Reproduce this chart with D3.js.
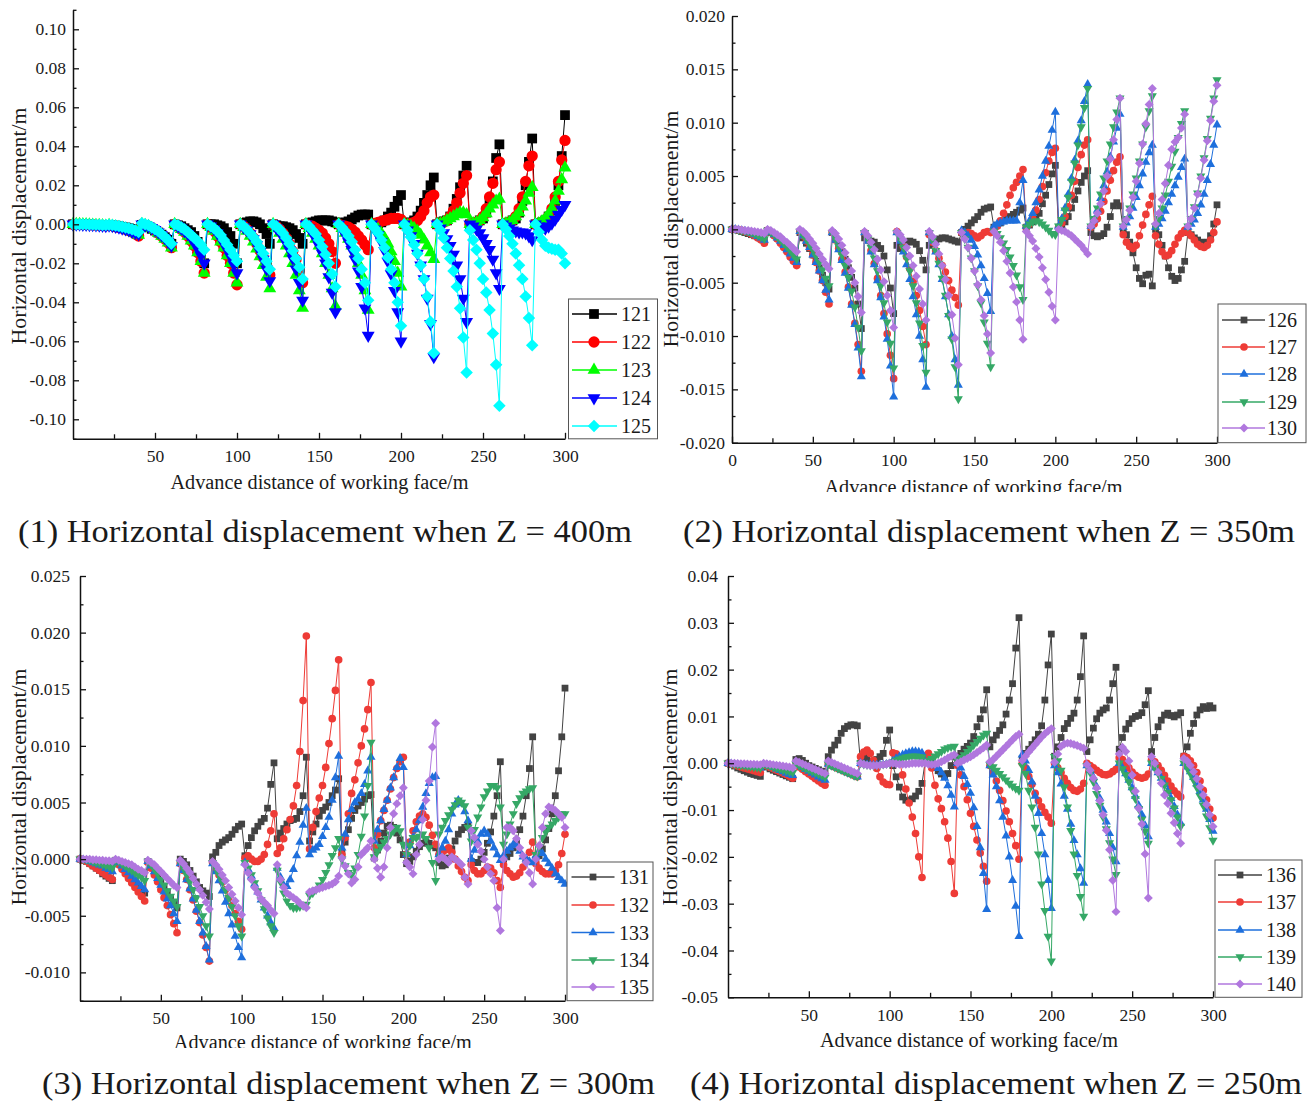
<!DOCTYPE html>
<html><head><meta charset="utf-8">
<script src="https://cdn.jsdelivr.net/npm/d3@7"></script>
<style>
body{margin:0;background:#fff}
svg{display:block}
text{font-family:"Liberation Serif","Times New Roman",serif;fill:#1a1a1a}
</style>
</head><body>
<svg id="c" width="1314" height="1102"></svg>
<script>
// Advance distance of working face (m): sampled every 2 m, 0..300
const advance = d3.range(0, 301, 2);

// Horizontal displacement in mm; each series = 15 advance steps of 20 m, 10 samples each (x = 20k+2 .. 20k+20); value at x=0 is 0
// ---------- Z = 400 m ----------
const names400 = ["121","122","123","124","125"];
const s121 = [[0,0,-0.1,-0.1,-0.2,-0.2,-0.3,-0.3,-0.4,-0.5],[-0.3,-0.5,-0.7,-1,-1.3,-1.6,-2,-2.4,-2.8,-3.3],[-0.3,-0.8,-1.5,-2.3,-3.2,-4.2,-5.3,-6.6,-8,-10],[0,-0.5,-1,-2,-3,-4,-6,-9,-13,-20],[0,0,0,-0.5,-1,-2,-4,-6,-10,-20],[0,0.5,1,1.5,1.5,1,0,-2,-5,-10],[0,-0.5,-1,-1,-1.5,-2,-3,-5,-7,-10],[0,0.5,1,1.5,2,2,2,2,1.5,1],[0,0.5,1,1.5,2.5,3.5,4.5,5,5,5],[0,0,0.5,1,2,4,6,9,12,15],[0,0.5,1,2,4,7,11,15,20,24],[0,1,1.5,2,4,8,13,19,25,30],[0,0.5,1,2,3,6,12,22,34,41],[0,0.5,1,2,3,6,12,20,32,44],[0,0.5,1,2,4,7,12,20,35,56]];
const s122 = [[0,0,-0.1,-0.1,-0.2,-0.3,-0.4,-0.5,-0.6,-0.8],[-0.5,-0.8,-1.2,-1.6,-2,-2.6,-3.2,-4,-5,-6],[0,-0.5,-1,-2,-3,-4.5,-6,-7.5,-9.5,-12],[0,-1,-2.5,-4,-6,-8.5,-11,-14.5,-19,-25],[0,-1.5,-3.5,-6,-9,-12,-16,-20,-25,-31],[0,-1,-2.5,-4.5,-7,-10,-13.5,-17,-21,-26],[0,-1,-2.5,-4.5,-7,-10,-14,-18,-24,-30],[0,-0.5,-1,-2,-3,-4.5,-7,-10,-14,-20],[0,-0.5,-1,-1.5,-2.5,-4,-6,-8,-10.5,-13],[0,0.5,1,1.5,2,2.5,3,3,3,2.5],[0,0,0.5,1,2,4,7,11,14,15],[0,0.5,1,2,4,7,11,16,21,25],[0,0.5,1,2,4,8,14,21,28,32],[0,0.5,1,2,4,8,14,22,30,35],[0,0.5,1,2,4,8,14,22,33,43]];
const s123 = [[0,0,-0.1,-0.1,-0.2,-0.3,-0.4,-0.5,-0.6,-0.8],[-0.5,-0.8,-1.2,-1.6,-2,-2.5,-3,-3.7,-4.5,-5.5],[0,-0.5,-1,-2,-3,-4.5,-6,-7.5,-9.5,-12],[0,-1,-2.5,-4,-6,-8.5,-11,-14.5,-19,-25],[0,-1.5,-3.5,-6,-9,-12,-16,-20,-25,-30],[0,-1.5,-3.5,-6,-9,-12.5,-16.5,-21,-27,-33],[0,-2,-4.5,-7.5,-11,-15,-20,-26,-34,-43],[0,-2,-4.5,-7.5,-11,-15,-20,-26,-33,-42],[0,-2,-4.5,-7.5,-11,-15,-20,-26,-34,-44],[0,-1,-2.5,-4.5,-7,-10,-14,-19,-25,-32],[0,-0.5,-1,-2,-3.5,-5.5,-8,-11,-14.5,-18],[0,0.5,1,2,3,4,5,6,6,5],[0,0.5,1,2,3.5,5.5,8,10,12,13],[0,0.5,1,2,4,6,9,12,16,19],[0,0.5,1.5,3,5,8,12,17,23,29]];
const s124 = [[0,0,-0.1,-0.1,-0.2,-0.3,-0.4,-0.5,-0.6,-0.8],[-0.5,-0.8,-1.2,-1.6,-2,-2.5,-3,-3.7,-4.3,-5],[0,-0.5,-1,-1.8,-2.8,-4,-5.5,-7,-9,-11],[0,-1,-2,-3.5,-5,-7,-9.5,-12.5,-16,-20],[0,-1,-2.5,-4.5,-7,-10,-13,-16.5,-20.5,-25],[0,-1.5,-3,-5,-7.5,-10.5,-14,-18,-23,-29],[0,-2,-4,-6.5,-9.5,-13,-17.5,-23,-30,-39],[0,-2,-4.5,-7.5,-11,-15,-20,-27,-35,-45],[0,-2.5,-5.5,-9,-13,-18,-24,-32,-43,-57],[0,-2.5,-5.5,-9,-13.5,-19,-25.5,-34,-45,-60],[0,-3,-6,-10,-15,-21,-28,-38,-51,-68],[0,-2,-4.5,-7.5,-11,-15.5,-21,-28,-38,-50],[0,-1,-2.5,-4.5,-7,-10,-13,-18,-25,-33],[0,-1,-2,-3,-3.5,-4,-4,-4.5,-6,-8],[0,-1,-2,-2,-1,0.5,2.5,5,7.5,10]];
const s125 = [[0,0,0,0,-0.1,-0.1,-0.2,-0.2,-0.3,-0.4],[-0.2,-0.4,-0.6,-0.9,-1.2,-1.6,-2,-2.5,-3.1,-4],[0.5,0,-0.5,-1.5,-2.5,-3.5,-5,-6.5,-8,-10],[0,-0.5,-1.5,-2.5,-4,-5.5,-7,-8.5,-10.5,-13],[0,-1,-2,-3.5,-5.5,-8,-10.5,-13,-16,-19],[0,-1,-2.5,-4.5,-6.5,-9,-12,-15,-19,-23],[0,-1,-2.5,-4.5,-7,-10,-13.5,-17.5,-22,-28],[0,-1,-3,-5,-8,-11.5,-15.5,-20,-25.5,-32],[0,-1.5,-3.5,-6,-9,-13,-17.5,-23,-30,-39],[0,-2,-4.5,-8,-12,-17,-23,-30,-40,-52],[0,-3,-6.5,-10.5,-15,-21,-28,-37,-50,-66],[0,-3,-7,-12,-17.5,-24,-32,-43,-58,-76],[-3,-8,-13,-20,-28,-35,-44,-56,-72,-93],[0,-2.5,-6,-10,-15,-21,-28,-37,-48,-62],[0,-4,-8,-11,-12,-12.5,-13,-13,-15,-20]];

// ---------- Z = 350 m ----------
const names350 = ["126","127","128","129","130"];
const s126 = [[0,-0.1,-0.2,-0.3,-0.4,-0.5,-0.6,-0.7,-0.9,-1.0],[-0.1,-0.3,-0.5,-0.8,-1.1,-1.5,-1.9,-2.3,-2.7,-3.1],[-0.3,-0.8,-1.3,-1.8,-2.4,-3,-3.6,-4.3,-5,-5.6],[-0.3,-0.9,-1.5,-2.1,-2.8,-3.6,-4.5,-5.5,-7,-9.3],[-0.8,-1.0,-1.1,-1.2,-1.5,-1.8,-2.5,-3.8,-5.5,-7.9],[-1.5,-1.8,-1.5,-1.2,-1.1,-1.2,-1.4,-2,-2.9,-3.8],[-1.5,-1.3,-1.0,-0.9,-0.8,-0.8,-0.9,-1.0,-1.1,-1.2],[-0.3,0,0.3,0.6,0.9,1.2,1.6,1.9,2.0,2.1],[0.2,0.4,0.6,0.8,1.0,1.2,1.4,1.6,1.8,2.0],[0.2,0.4,0.7,1.0,1.5,2.4,3.2,4.2,5.2,6.0],[0.2,0.4,0.7,1.2,2,2.8,3.6,4.4,5.0,5.5],[-0.3,-0.6,-0.7,-0.6,-0.4,0.2,1.2,2.2,2.5,2.2],[0,-0.5,-1.2,-2.2,-3.6,-4.6,-5.1,-4.3,-4.2,-5.3],[0,-0.5,-1.5,-2.5,-3.6,-4.4,-4.8,-4.6,-3.8,-3.0],[-0.3,-0.5,-0.8,-1.0,-1.2,-1.3,-1.2,-0.6,0.5,2.3]];
const s127 = [[0,-0.05,-0.1,-0.2,-0.3,-0.45,-0.6,-0.8,-1.0,-1.3],[-0.1,-0.3,-0.6,-0.9,-1.3,-1.7,-2.1,-2.6,-3.0,-3.4],[-0.2,-0.6,-1.1,-1.7,-2.4,-3.1,-3.9,-4.8,-5.9,-7.0],[-0.3,-1,-1.8,-2.8,-4,-5.4,-7,-8.8,-10.8,-13.3],[-0.3,-1,-2,-3.2,-4.6,-6.2,-7.9,-9.8,-11.8,-14.0],[-0.2,-0.8,-1.6,-2.6,-3.7,-4.9,-6.2,-7.6,-9.1,-10.8],[-0.5,-1.2,-2.0,-2.7,-3.4,-4.0,-4.8,-5.7,-6.4,-7.1],[-0.3,-0.4,-0.3,-0.4,-0.6,-0.8,-0.6,-0.3,-0.2,-0.3],[0,0.3,0.8,1.5,2.3,3.2,3.9,4.4,5.0,5.6],[0.2,0.5,1.0,1.8,2.8,4.0,5.3,6.4,7.2,7.6],[0.2,0.6,1.2,2.1,3.2,4.5,5.8,7.0,7.9,8.4],[0.2,0.5,1.0,1.7,2.6,3.6,4.6,5.5,6.3,6.8],[-0.5,-1.2,-1.6,-1.8,-1.5,-0.6,0.4,1.4,2.3,3.1],[-0.6,-1.4,-2.1,-2.5,-2.4,-2.0,-1.4,-0.8,-0.4,-0.1],[-0.3,-0.6,-1.0,-1.4,-1.6,-1.7,-1.5,-1.0,-0.3,0.7]];
const s128 = [[0,-0.05,-0.1,-0.15,-0.25,-0.35,-0.5,-0.65,-0.8,-1.0],[-0.1,-0.3,-0.5,-0.8,-1.1,-1.5,-1.9,-2.3,-2.7,-3.1],[-0.2,-0.6,-1.1,-1.7,-2.4,-3.1,-3.9,-4.8,-5.7,-6.6],[-0.3,-1.0,-1.9,-2.9,-4.1,-5.5,-7.1,-8.9,-11.1,-13.8],[-0.3,-1.1,-2.1,-3.3,-4.8,-6.4,-8.2,-10.3,-12.8,-15.7],[-0.3,-1.1,-2.1,-3.3,-4.7,-6.3,-8.0,-10.0,-12.2,-14.8],[-0.3,-1.1,-2.1,-3.3,-4.7,-6.3,-8.0,-10.0,-12.2,-14.6],[-0.1,-0.3,-0.6,-1.0,-1.6,-2.4,-3.4,-4.6,-6.0,-7.7],[0.3,0.5,0.6,0.7,0.8,0.8,0.8,0.8,2.5,4.6],[0.3,0.8,1.5,2.5,3.7,5.0,6.4,7.8,9.3,11.0],[0.3,1.0,2.0,3.3,4.8,6.5,8.3,10.2,12.0,13.6],[0.3,0.9,1.8,2.9,4.1,5.4,6.8,8.2,9.5,10.8],[0.2,0.6,1.2,2.0,3.0,4.1,5.2,6.3,7.2,7.9],[0.2,0.5,1.0,1.7,2.5,3.3,4.1,4.9,5.8,6.6],[0.2,0.5,0.9,1.5,2.3,3.3,4.6,6.1,7.9,9.8]];
const s129 = [[0,-0.05,-0.1,-0.15,-0.2,-0.3,-0.4,-0.55,-0.7,-0.9],[-0.1,-0.25,-0.45,-0.7,-1,-1.3,-1.65,-2,-2.4,-2.8],[-0.2,-0.5,-0.9,-1.4,-1.9,-2.5,-3.1,-3.8,-4.6,-5.3],[-0.3,-0.9,-1.6,-2.4,-3.4,-4.5,-5.8,-7.3,-9.2,-11.4],[-0.3,-0.9,-1.7,-2.7,-3.9,-5.3,-6.9,-8.7,-10.7,-13.0],[-0.3,-0.9,-1.7,-2.7,-3.9,-5.3,-6.9,-8.8,-10.9,-13.4],[-0.3,-1.0,-2.0,-3.2,-4.6,-6.2,-8.1,-10.3,-12.9,-15.9],[-0.3,-0.9,-1.7,-2.7,-3.9,-5.3,-6.9,-8.7,-10.7,-12.9],[-0.2,-0.4,-0.8,-1.3,-1.9,-2.6,-3.4,-4.3,-5.4,-6.6],[0.2,0.5,0.7,0.8,0.7,0.5,0.2,-0.1,-0.4,-0.5],[0.3,0.9,1.8,3.0,4.5,6.2,7.9,9.6,11.4,13.2],[0.3,1.0,2.0,3.3,4.8,6.4,8.0,9.6,11.0,12.3],[0.3,1.0,2.0,3.3,4.8,6.4,8.0,9.6,11.1,12.5],[0.3,1.0,2.0,3.2,4.5,5.9,7.3,8.6,9.9,11.1],[0.3,1.0,2.1,3.4,5.0,6.7,8.5,10.4,12.3,14.0]];
const s130 = [[0,0,-0.05,-0.1,-0.1,-0.15,-0.2,-0.25,-0.3,-0.4],[0,-0.1,-0.3,-0.5,-0.7,-1.0,-1.2,-1.5,-1.8,-2.1],[0,-0.2,-0.5,-0.9,-1.3,-1.8,-2.3,-2.8,-3.3,-3.7],[-0.1,-0.4,-0.9,-1.5,-2.2,-3.0,-3.9,-5.0,-6.3,-7.8],[-0.2,-0.6,-1.2,-1.9,-2.8,-3.8,-4.9,-6.2,-7.6,-9.2],[-0.2,-0.5,-1.0,-1.7,-2.5,-3.4,-4.4,-5.6,-7.0,-8.5],[-0.2,-0.7,-1.4,-2.3,-3.4,-4.7,-6.2,-8.0,-10.2,-12.7],[-0.3,-0.9,-1.7,-2.7,-3.9,-5.2,-6.6,-8.1,-9.8,-11.6],[-0.2,-0.6,-1.2,-2.0,-3.0,-4.1,-5.4,-6.8,-8.5,-10.3],[-0.2,-0.6,-1.1,-1.8,-2.6,-3.6,-4.7,-5.9,-7.2,-8.5],[0,-0.1,-0.2,-0.4,-0.6,-0.9,-1.2,-1.5,-1.9,-2.3],[0.3,0.8,1.5,2.4,3.6,5.0,6.6,8.4,10.3,12.3],[0.3,0.9,1.8,3.0,4.5,6.2,8.0,9.9,11.7,13.2],[0.5,1.5,2.8,4.3,6.0,7.5,8.2,8.6,9.5,10.8],[0.3,1.0,2.0,3.3,4.8,6.5,8.3,10.2,12.0,13.5]];

// ---------- Z = 300 m ----------
const names300 = ["131","132","133","134","135"];
const s131 = [[-0.1,-0.2,-0.4,-0.6,-0.8,-1.0,-1.3,-1.5,-1.7,-1.9],[-0.1,-0.3,-0.5,-0.8,-1.1,-1.5,-1.9,-2.3,-2.7,-3.0],[-0.2,-0.5,-0.9,-1.4,-1.9,-2.4,-2.9,-3.4,-3.9,-4.3],[0,-0.2,-0.5,-1.0,-1.5,-2.0,-2.5,-2.8,-3.0,-3.3],[0.2,0.6,1.2,1.5,1.7,1.9,2.2,2.6,2.9,3.1],[0.3,1.2,1.9,2.5,2.9,3.3,3.6,4.5,6.6,8.5],[1.8,2.3,2.7,3.1,3.4,3.5,3.6,4.2,5.6,9.0],[1.6,2.4,3.1,3.8,4.3,4.6,5.0,5.6,6.1,7.1],[0.5,1.5,2.6,3.6,4.3,4.7,5.0,5.3,5.6,5.7],[0.1,0.8,1.6,2.3,2.9,3.0,2.8,2.3,1.7,0.4],[-0.4,-0.2,0.2,0.7,1.1,1.4,1.5,1.4,1.2,1.0],[-0.3,-0.6,-0.5,0.1,0.9,1.6,2.2,2.6,2.8,3.0],[-0.2,-0.3,-0.3,0,0.6,1.4,2.4,3.8,5.6,8.6],[0,0.2,0.5,1.0,1.6,2.6,3.8,5.6,8.0,10.8],[0,0.3,0.9,1.7,2.7,4.0,5.6,7.8,10.8,15.1]];
const s132 = [[-0.1,-0.2,-0.4,-0.6,-0.8,-1.0,-1.2,-1.4,-1.6,-1.8],[-0.2,-0.5,-0.9,-1.3,-1.7,-2.1,-2.5,-2.9,-3.3,-3.7],[-0.3,-0.8,-1.4,-2.0,-2.7,-3.4,-4.1,-4.9,-5.7,-6.5],[-0.4,-1.0,-1.8,-2.7,-3.6,-4.6,-5.6,-6.7,-7.8,-9.0],[-0.3,-0.8,-1.4,-2.0,-2.7,-3.4,-4.1,-4.8,-5.5,-6.2],[0.1,0.3,0,-0.2,-0.2,0,0.4,1.3,2.5,4.0],[0.5,1.0,1.8,2.6,3.5,4.7,6.5,9.5,14.0,19.7],[0.9,2.8,4.2,5.4,6.5,8.1,10.2,12.4,14.9,17.6],[0.4,1.9,4.0,5.8,7.0,8.5,10.0,11.5,13.2,15.6],[1.0,2.2,3.4,4.3,5.2,6.2,7.2,8.0,8.6,9.0],[0.4,1.5,2.5,3.3,3.8,4.0,3.7,3.0,2.1,1.3],[0.4,0.6,0.8,1.0,0.6,0.0,-0.6,-1.1,-1.6,-1.9],[-0.5,-1.0,-1.3,-1.3,-1.0,-0.7,-0.8,-1.2,-1.9,-2.5],[-0.5,-1.0,-1.3,-1.6,-1.5,-1.2,-0.7,-0.1,0.6,1.5],[-0.4,-0.8,-1.1,-1.3,-1.3,-1.3,-1.0,-0.5,0.5,2.2]];
const s133 = [[-0.05,-0.1,-0.2,-0.3,-0.4,-0.5,-0.6,-0.8,-0.9,-1.1],[-0.1,-0.3,-0.6,-0.9,-1.2,-1.5,-1.8,-2.1,-2.4,-2.7],[-0.2,-0.6,-1.1,-1.7,-2.3,-2.9,-3.5,-4.1,-4.8,-5.5],[-0.4,-1.0,-1.8,-2.6,-3.5,-4.5,-5.5,-6.5,-7.7,-8.9],[-0.4,-1.1,-1.9,-2.8,-3.8,-4.8,-5.8,-6.8,-7.8,-8.7],[-0.3,-0.9,-1.5,-2.2,-2.9,-3.6,-4.3,-5.0,-5.6,-6.1],[-0.8,-1.6,-2.3,-2.4,-1.8,-0.9,0.3,1.5,3.0,4.5],[0.4,0.8,1.0,1.3,2.0,2.8,3.7,5.2,7.2,9.1],[1.0,2.2,3.5,4.4,5.0,5.3,5.8,6.6,7.8,9.0],[1.6,2.6,3.4,4.4,5.2,6.3,7.2,8.1,8.9,8.1],[0.4,1.2,1.9,2.6,3.4,4.6,5.8,6.7,7.2,7.3],[0.4,1.0,1.6,2.6,4.0,4.8,5.2,4.9,4.2,3.4],[0,0.8,1.6,2.2,2.5,2.2,1.6,1.0,0.4,-0.1],[0.3,0.7,1.0,1.3,1.2,0.7,0.2,0,-0.2,-0.3],[0.3,0.7,0.5,0,-0.4,-0.8,-1.3,-1.6,-1.9,-2.2]];
const s134 = [[0,-0.05,-0.1,-0.2,-0.3,-0.35,-0.45,-0.55,-0.65,-0.75],[-0.1,-0.2,-0.4,-0.6,-0.8,-1.0,-1.2,-1.4,-1.6,-1.9],[-0.2,-0.5,-0.9,-1.3,-1.8,-2.3,-2.8,-3.3,-3.7,-4.2],[-0.3,-0.8,-1.4,-2.0,-2.7,-3.4,-4.2,-5.0,-5.9,-6.8],[-0.3,-0.8,-1.4,-2.0,-2.7,-3.4,-4.2,-5.0,-5.9,-6.8],[-0.3,-0.8,-1.4,-2.1,-2.8,-3.6,-4.4,-5.2,-5.9,-6.5],[-1.0,-2.0,-3.0,-3.7,-4.1,-4.3,-4.3,-4.2,-4.1,-4.0],[-3.2,-3.0,-2.7,-2.3,-1.8,-1.2,-0.5,0.3,1.0,1.8],[0,-0.6,-1.2,-1.4,-0.8,0.4,2.0,3.8,6.5,10.3],[0.2,0.7,1.1,1.5,1.8,2.2,2.5,2.8,2.5,1.3],[0.4,1.2,1.9,1.9,2.0,2.2,1.8,1.0,-0.3,-1.9],[2.2,2.8,3.4,3.9,4.4,4.8,5.2,5.0,4.7,2.8],[1.6,2.6,3.7,4.6,5.5,6.0,6.5,6.5,6.3,4.6],[1.3,2.2,3.1,4.0,4.9,5.4,5.8,6.0,6.2,6.3],[0.4,1.1,1.9,2.4,2.8,3.1,3.4,3.7,4.0,4.0]];
const s135 = [[0,0,0,-0.05,-0.05,-0.1,-0.1,-0.15,-0.15,-0.2],[0,-0.1,-0.2,-0.3,-0.4,-0.5,-0.7,-0.9,-1.0,-1.2],[-0.1,-0.3,-0.5,-0.8,-1.1,-1.4,-1.7,-2.0,-2.3,-2.5],[-0.1,-0.4,-0.8,-1.2,-1.7,-2.2,-2.7,-3.2,-3.8,-4.4],[-0.2,-0.5,-0.9,-1.4,-1.9,-2.5,-3.1,-3.7,-4.3,-4.9],[-0.5,-1.2,-1.8,-2.5,-3.0,-3.5,-3.8,-4.1,-4.5,-4.8],[-0.5,-1.8,-2.5,-3.0,-3.2,-3.4,-3.6,-3.9,-4.1,-4.3],[-2.9,-2.8,-2.7,-2.6,-2.5,-2.4,-2.3,-2.2,-2.0,-1.5],[0.1,-0.6,-1.3,-2.1,-1.8,-0.7,0.4,0.7,1.0,1.6],[0,-0.8,-1.6,-0.7,1.0,2.8,4.0,4.9,5.6,6.3],[-0.3,-0.7,-1.3,0.4,1.3,3.5,5.2,6.9,9.9,12.0],[0,0.2,0,-0.3,0.2,0,-0.2,-0.5,-1.6,-2.2],[2.5,1.9,1.3,0.7,0,-0.7,-1.3,-1.9,-4.3,-6.3],[0,2.8,2.8,2.5,1.8,1.0,0.3,-0.3,-1.2,-2.2],[0,1.2,2.8,4.0,4.6,4.5,4.3,4.0,3.7,2.8]];

// ---------- Z = 250 m ----------
const names250 = ["136","137","138","139","140"];
const s136 = [[-0.3,-0.6,-1.0,-1.3,-1.6,-1.9,-2.2,-2.4,-2.6,-2.8],[-0.5,-0.8,-1.2,-1.5,-1.8,-2.1,-2.4,-2.7,-3.0,-3.3],[0.8,1.0,0.6,0,-0.5,-0.8,-1.1,-1.4,-1.7,-2.0],[1.4,2.8,3.9,4.9,6.4,7.4,7.9,8.2,8.2,8.0],[0,1.4,1.0,0.3,0,0.8,1.4,2.1,4.9,7.1],[-0.5,-2.9,-5.1,-7.2,-7.9,-7.9,-7.6,-7.0,-6.0,-4.3],[0.5,0.3,0,-0.8,-1.6,-2.3,-2.8,-2.2,-0.5,1.5],[1.0,2.1,3.0,3.6,4.3,5.7,7.8,9.5,11.4,15.7],[3.5,5.0,6.0,7.0,8.2,10.5,13.5,17.0,24.6,31.1],[1.0,2.1,3.0,4.0,5.0,6.2,8.0,13.5,21.0,27.6],[1.5,3.5,5.5,7.4,8.5,9.6,10.7,13.5,18.5,27.2],[2.5,5.0,7.5,9.5,10.7,11.4,11.8,13.5,17.0,20.5],[3.0,5.5,7.3,8.5,9.5,10.0,10.2,10.8,12.5,15.5],[2.5,5.5,7.8,9.2,10.3,10.7,10.2,9.9,10.3,10.8],[1.5,3.5,6.4,8.5,10.3,11.4,12.1,11.7,12.3,11.8]];
const s137 = [[-0.2,-0.4,-0.6,-0.8,-1.0,-1.2,-1.4,-1.6,-1.8,-2.0],[-0.3,-0.6,-0.9,-1.2,-1.5,-1.8,-2.1,-2.4,-2.8,-3.2],[-0.3,-0.8,-1.3,-1.8,-2.3,-2.8,-3.3,-3.8,-4.3,-4.7],[-0.2,-0.5,-0.8,-1.1,-1.4,-1.7,-2.0,-2.3,-2.6,-2.9],[1.4,2.4,2.8,2.1,0.6,-1.1,-2.9,-4.0,-4.5,-4.6],[2.2,2.0,0.5,-2.5,-5.5,-8.5,-11.5,-15.0,-20.0,-24.4],[1.5,2.1,-1.0,-4.7,-7.6,-9.7,-12.5,-16.0,-21.0,-27.8],[-0.5,-2.5,-5.0,-7.8,-10.7,-13.5,-16.4,-19.2,-22.0,-25.2],[-0.5,-2.0,-3.8,-5.8,-8.0,-10.2,-12.5,-15.0,-17.6,-20.5],[0,-1,-2.8,-4.5,-6.4,-8.0,-9.3,-10.5,-11.5,-12.8],[0,-1.0,-2.0,-3.2,-4.3,-5.2,-5.8,-6.0,-5.5,-4.3],[0,-0.5,-1.0,-1.5,-2.0,-2.4,-2.5,-2.3,-1.8,-1.3],[1.2,0.8,0,-1.0,-1.9,-2.6,-3.0,-3.2,-3.0,-2.3],[0.8,0.3,-0.5,-1.5,-2.6,-3.8,-4.9,-5.9,-6.6,-7.2],[1.5,1.2,0.5,-0.5,-2.0,-3.8,-5.8,-7.8,-9.8,-11.7]];
const s138 = [[-0.1,-0.2,-0.3,-0.4,-0.5,-0.6,-0.7,-0.8,-0.9,-1.0],[-0.2,-0.4,-0.6,-0.9,-1.2,-1.5,-1.8,-2.1,-2.4,-2.6],[-0.2,-0.5,-0.9,-1.3,-1.7,-2.1,-2.5,-2.9,-3.3,-3.6],[-0.2,-0.5,-0.8,-1.1,-1.4,-1.7,-2.0,-2.3,-2.6,-2.9],[0,-0.2,-0.3,-0.4,-0.4,-0.4,-0.3,-0.3,-0.2,-0.1],[0.5,1.0,1.4,1.8,2.1,2.3,2.5,2.5,2.4,2.2],[0.5,0.3,0,-0.5,-1.1,-2.0,-3.2,-4.8,-6.8,-9.3],[0,-1.0,-2.8,-4.5,-6.4,-9.5,-13.5,-18,-23.5,-31.2],[-0.5,-2.5,-5,-8,-11.5,-15.5,-20,-25,-30.5,-37],[1.8,0.5,-1.5,-4.0,-7.0,-10.7,-15.0,-19.5,-25,-31],[-0.5,-2.0,-4.4,-7.0,-9.8,-13.0,-16.5,-19.5,-22.5,-25.6],[-0.5,-1.5,-3.0,-5.0,-7.5,-10.0,-12.5,-15.0,-18.0,-21.0],[0,-1.0,-2.2,-3.6,-5.2,-7.0,-9.0,-11.0,-13.3,-15.7],[0,-1,-2,-3.2,-4.5,-6.0,-7.5,-9.2,-11,-12.8],[0,-0.8,-1.8,-3.0,-4.4,-6.0,-7.8,-9.8,-12.0,-14.5]];
const s139 = [[-0.1,-0.2,-0.3,-0.4,-0.5,-0.6,-0.7,-0.8,-0.9,-1.0],[-0.2,-0.4,-0.6,-0.8,-1.0,-1.2,-1.4,-1.6,-1.8,-2.0],[-0.2,-0.5,-0.8,-1.1,-1.4,-1.7,-2.0,-2.3,-2.6,-3.0],[-0.2,-0.5,-0.8,-1.1,-1.4,-1.7,-2.0,-2.3,-2.6,-2.8],[0,-0.2,-0.3,-0.4,-0.4,-0.4,-0.3,-0.2,-0.1,0],[0.3,0.6,0.9,1.1,1.3,1.4,1.5,1.5,1.4,1.3],[0.3,0.6,1.0,1.5,2.0,2.5,3.0,3.3,3.5,3.6],[0.5,1.2,1.8,2.5,3.2,3.9,4.6,5.3,6.0,6.4],[-0.3,-0.8,-1.5,-2.2,-2.9,-3.6,-4.3,-4.9,-5.4,-5.8],[-0.5,-2.2,-5.8,-9.4,-13.7,-19.4,-25.8,-31.5,-37,-42.3],[1.4,0.5,-1.5,-5.1,-9.4,-14.4,-19.4,-24,-28.5,-32.7],[-0.5,-2.0,-4.0,-6.5,-9.0,-11.5,-14.0,-17.0,-20.5,-23.8],[0,-1.2,-2.5,-4.0,-5.7,-7.6,-9.7,-12.0,-14.5,-17.1],[0,-1,-2.1,-3.3,-4.7,-6.2,-7.8,-9.6,-11.5,-13.5],[0,-1.0,-2.2,-3.6,-5.2,-7.0,-9.0,-11.3,-13.8,-16.5]];
const s140 = [[0,0,-0.05,-0.1,-0.1,-0.15,-0.2,-0.2,-0.25,-0.3],[0,-0.1,-0.2,-0.3,-0.4,-0.5,-0.6,-0.7,-0.8,-1.0],[0.5,0.2,-0.1,-0.4,-0.7,-1.0,-1.3,-1.6,-1.9,-2.2],[0.5,0.2,-0.1,-0.4,-0.7,-1.0,-1.3,-1.6,-1.9,-2.2],[0,-0.2,-0.4,-0.5,-0.5,-0.5,-0.4,-0.3,-0.2,0],[0,-0.1,-0.2,-0.2,-0.2,-0.1,0,0,0,0],[0,-0.2,-0.3,-0.2,0,0.3,0.7,1.1,1.5,1.8],[0,0.3,0.7,1.0,1.4,1.8,2.3,2.8,3.3,3.9],[0.3,0.8,1.5,2.2,2.9,3.6,4.3,5.0,5.7,6.2],[0.6,1.5,2.4,3.2,4.0,4.8,5.6,6.3,6.9,7.4],[0.2,2.0,3.6,4.1,4.3,4.2,4.0,3.8,3.5,3.2],[-0.3,-1.5,-3.2,-5.3,-8.0,-11.0,-14.3,-18.5,-25.0,-31.7],[2.0,3.4,2.5,0.5,-2.5,-6.0,-9.6,-13.0,-19.4,-28.8],[1.4,0,-1.9,-4.3,-6.8,-8.6,-10.7,-12.7,-15.0,-17.1],[1.0,0.5,-0.5,-1.8,-3.3,-5.0,-6.8,-8.8,-11.0,-13.5]];

// tick labels
const yLabels400 = ["-0.10","-0.08","-0.06","-0.04","-0.02","0.00","0.02","0.04","0.06","0.08","0.10"];
const yLabels350 = ["-0.020","-0.015","-0.010","-0.005","0.000","0.005","0.010","0.015","0.020"];
const yLabels300 = ["-0.010","-0.005","0.000","0.005","0.010","0.015","0.020","0.025"];
const yLabels250 = ["-0.05","-0.04","-0.03","-0.02","-0.01","0.00","0.01","0.02","0.03","0.04"];
const xLabels = ["50","100","150","200","250","300"];
const xLabelsWithZero = ["0","50","100","150","200","250","300"];
const captions = ["(1) Horizontal displacement when Z = 400m","(2) Horizontal displacement when Z = 350m","(3) Horizontal displacement when Z = 300m","(4) Horizontal displacement when Z = 250m"];
const xTitle = "Advance distance of working face/m";
const yTitle = "Horizontal displacement/m";

const colorsBright = ["#000000","#ff0000","#00ff00","#0000ff","#00ffff"];
const colorsOrigin = ["#434343","#ee3b36","#1e6fdc","#35a866","#b077de"];

const svg = d3.select("#c");
const defs = svg.append("defs");
const fontFam = '"Liberation Serif","Times New Roman",serif';

// marker generators: square, circle, up-triangle, down-triangle, diamond
function markerPath(i, big) {
  const sz = big ? [95, 100, 72, 72, 78] : [46, 46, 36, 36, 40];
  if (i === 0) return d3.symbol().type(d3.symbolSquare).size(sz[0])();
  if (i === 1) return d3.symbol().type(d3.symbolCircle).size(sz[1])();
  if (i === 2 || i === 3) return d3.symbol().type(d3.symbolTriangle).size(sz[i])();
  return d3.symbol().type(d3.symbolSquare).size(sz[4])();
}
function markerRot(i) { return i === 3 ? 180 : (i === 4 ? 45 : 0); }

const panels = [
  { id: "p1", series: [s121,s122,s123,s124,s125], names: names400, colors: colorsBright, big: true,
    x0: 73, x1: 565, yDom: [-0.11, 0.11], yB: 438.8, yT: 9.8, yLabels: yLabels400, minorStep: 0.01,
    xLabels: xLabels, ylabPad: 7, clip: [0, 0, 662, 500],
    legend: { box: [568.5, 299, 89, 139.8], rows: [314, 342, 370, 398, 426], l0: 572, l1: 617, m: 594, tx: 621 },
    yt: [19, 226], xt: [319.5, 482], cap: [18, 542, 614] },
  { id: "p2", series: [s126,s127,s128,s129,s130], names: names350, colors: colorsOrigin, big: false,
    x0: 732, x1: 1217, yDom: [-0.02, 0.02], yB: 442.7, yT: 16, yLabels: yLabels350, minorStep: 0.0025,
    xLabels: xLabelsWithZero, ylabPad: 7, clip: [663, 0, 651, 492],
    legend: { box: [1218, 304, 88, 138.7], rows: [320, 347, 374, 402, 428], l0: 1222, l1: 1265, m: 1244, tx: 1267 },
    yt: [671, 229], xt: [973.5, 487], cap: [683, 542, 612] },
  { id: "p3", series: [s131,s132,s133,s134,s135], names: names300, colors: colorsOrigin, big: false,
    x0: 80, x1: 565, yDom: [-0.0125, 0.025], yB: 1000.7, yT: 576, yLabels: yLabels300, minorStep: 0.0025,
    xLabels: xLabels, ylabPad: 10, clip: [0, 560, 662, 488],
    legend: { box: [567, 862, 86, 138.7], rows: [877, 905, 932.5, 960, 987], l0: 571.5, l1: 614.5, m: 593, tx: 619 },
    yt: [19, 787], xt: [322.8, 1042], cap: [42, 1094, 613] },
  { id: "p4", series: [s136,s137,s138,s139,s140], names: names250, colors: colorsOrigin, big: false,
    x0: 728, x1: 1213, yDom: [-0.05, 0.04], yB: 997.3, yT: 576, yLabels: yLabels250, minorStep: 0.005,
    xLabels: xLabels, ylabPad: 10, clip: [663, 560, 651, 542],
    legend: { box: [1215, 860, 87, 137.3], rows: [875, 902, 930, 957, 984], l0: 1218, l1: 1262, m: 1240, tx: 1266 },
    yt: [670, 787], xt: [969, 1040], cap: [690, 1094, 612] }
];

panels.forEach((p, pi) => {
  defs.append("clipPath").attr("id", "clip-" + p.id).append("rect")
    .attr("x", p.clip[0]).attr("y", p.clip[1]).attr("width", p.clip[2]).attr("height", p.clip[3]);
  const g = svg.append("g").attr("clip-path", "url(#clip-" + p.id + ")");
  const x = d3.scaleLinear().domain([0, 300]).range([p.x0, p.x1]);
  const y = d3.scaleLinear().domain(p.yDom).range([p.yB, p.yT]);

  // series
  p.series.forEach((segs, i) => {
    const vals = [0].concat(segs.flat()).map(v => v / 1000);
    const pts = advance.map((a, j) => [a, vals[j]]);
    const sg = g.append("g");
    sg.append("path")
      .attr("d", d3.line().x(d => x(d[0])).y(d => y(d[1]))(pts))
      .attr("fill", "none").attr("stroke", p.colors[i]).attr("stroke-width", 1);
    const mp = markerPath(i, p.big), rot = markerRot(i);
    sg.selectAll("path.m").data(pts).join("path").attr("class", "m")
      .attr("d", mp)
      .attr("transform", d => `translate(${x(d[0])},${y(d[1])}) rotate(${rot})`)
      .attr("fill", p.colors[i]);
  });

  // axes
  const yMajor = p.yLabels.map(Number);
  const yMinor = d3.range(p.yDom[0], p.yDom[1] + 1e-9, p.minorStep)
    .filter(v => !yMajor.some(m => Math.abs(m - v) < 1e-9));
  const labelOf = v => p.yLabels[yMajor.findIndex(m => Math.abs(m - v) < 1e-9)];

  const ax = g.append("g").attr("transform", `translate(${p.x0},0)`)
    .call(d3.axisLeft(y).tickValues(yMajor).tickSize(-6).tickSizeOuter(0).tickPadding(p.ylabPad).tickFormat(labelOf));
  g.append("g").attr("transform", `translate(${p.x0},0)`)
    .call(d3.axisLeft(y).tickValues(yMinor).tickSize(-3.5).tickSizeOuter(0).tickFormat(""))
    .select(".domain").remove();

  const xMajor = p.xLabels.map(Number);
  const xMinor = [25, 75, 125, 175, 225, 275];
  const bx = g.append("g").attr("transform", `translate(0,${p.yB})`)
    .call(d3.axisBottom(x).tickValues(xMajor).tickSize(-6).tickSizeOuter(0).tickPadding(11).tickFormat((d, k) => p.xLabels[k]));
  g.append("g").attr("transform", `translate(0,${p.yB})`)
    .call(d3.axisBottom(x).tickValues(xMinor).tickSize(-4.5).tickSizeOuter(0).tickFormat(""))
    .select(".domain").remove();

  g.selectAll(".domain").attr("stroke", "#111").attr("stroke-width", 1.5);
  g.selectAll(".tick line").attr("stroke", "#111").attr("stroke-width", 1.3);
  [ax, bx].forEach(a => a.attr("font-family", fontFam).attr("font-size", 17)
    .selectAll("text").style("font-family", fontFam).style("font-size", "17.5px").attr("fill", "#1a1a1a"));

  // axis titles
  g.append("text").attr("x", p.xt[0]).attr("y", p.xt[1]).attr("dy", "0.35em")
    .attr("text-anchor", "middle").attr("font-size", 20)
    .attr("textLength", 298).attr("lengthAdjust", "spacingAndGlyphs").text(xTitle);
  g.append("text").attr("transform", `translate(${p.yt[0]},${p.yt[1]}) rotate(-90)`).attr("dy", "0.35em")
    .attr("text-anchor", "middle").attr("font-size", 21)
    .attr("textLength", 237).attr("lengthAdjust", "spacingAndGlyphs").text(yTitle);

  // legend
  const L = p.legend;
  const lg = g.append("g");
  lg.append("rect").attr("x", L.box[0]).attr("y", L.box[1]).attr("width", L.box[2]).attr("height", L.box[3])
    .attr("fill", "#fff").attr("stroke", "#555").attr("stroke-width", 1);
  p.names.forEach((nm, i) => {
    const ry = L.rows[i];
    lg.append("line").attr("x1", L.l0).attr("x2", L.l1).attr("y1", ry).attr("y2", ry)
      .attr("stroke", p.colors[i]).attr("stroke-width", 1.5);
    lg.append("path").attr("d", markerPath(i, p.big))
      .attr("transform", `translate(${L.m},${ry}) rotate(${markerRot(i)})`).attr("fill", p.colors[i]);
    lg.append("text").attr("x", L.tx).attr("y", ry).attr("dy", "0.35em").attr("font-size", 20).text(nm);
  });

  // caption
  svg.append("text").attr("x", p.cap[0]).attr("y", p.cap[1]).attr("font-size", 32)
    .attr("textLength", p.cap[2]).attr("lengthAdjust", "spacingAndGlyphs").text(captions[pi]);
});
</script>
</body></html>
